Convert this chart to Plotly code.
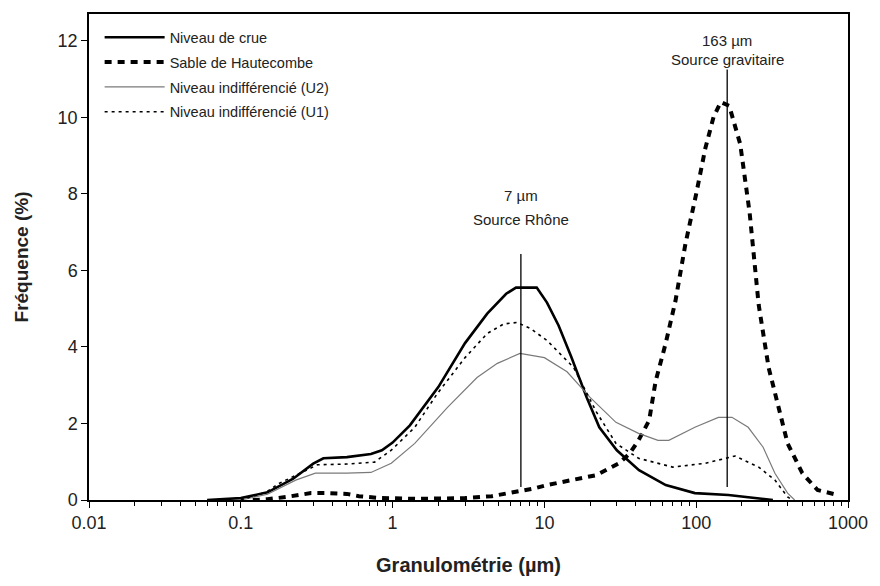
import plotly.graph_objects as go
import numpy as np

# ---- data ----
crue_x = [0.06, 0.1, 0.15, 0.22, 0.3, 0.35, 0.5, 0.72, 0.85, 1.0, 1.3, 2.0, 3.0, 4.2, 5.6, 6.5, 8.9,
          10.4, 12.4, 15, 19, 23, 30, 42, 63, 98, 163, 245, 320]
crue_y = [0, 0.05, 0.2, 0.55, 0.95, 1.09, 1.12, 1.2, 1.3, 1.5, 1.95, 2.95, 4.1, 4.87, 5.39, 5.55, 5.55,
          5.16, 4.56, 3.75, 2.68, 1.9, 1.3, 0.78, 0.39, 0.18, 0.13, 0.05, 0]

sable_x = [0.12, 0.15, 0.2, 0.29, 0.37, 0.5, 0.6, 0.84, 1.5, 3.0, 4.5, 6.3, 8.5, 10.4, 15, 22, 31, 36.5,
           41.7, 49, 54, 63, 73, 85, 100, 115, 130, 145, 165, 195, 225, 258, 300, 350, 400, 500, 630, 820]
sable_y = [0, 0.02, 0.08, 0.18, 0.18, 0.16, 0.1, 0.05, 0.03, 0.05, 0.1, 0.2, 0.3, 0.39, 0.52, 0.65, 0.96, 1.22,
           1.56, 2.08, 3.1, 4.1, 5.2, 6.7, 8.0, 9.2, 10.0, 10.4, 10.3, 9.3, 7.5, 5.1, 3.46, 2.34, 1.48, 0.7, 0.26, 0.15]

u2_x = [0.1, 0.15, 0.23, 0.31, 0.5, 0.72, 0.98, 1.4, 2.3, 3.6, 4.9, 6.9, 10, 14.1, 20, 29.6, 41.7, 56, 66,
        98, 140, 172, 220, 276, 330, 400, 445]
u2_y = [0, 0.15, 0.52, 0.7, 0.7, 0.72, 0.96, 1.48, 2.42, 3.2, 3.57, 3.83, 3.72, 3.35, 2.68, 2.03, 1.74, 1.56, 1.56,
        1.9, 2.16, 2.16, 1.9, 1.38, 0.7, 0.18, 0]

u1_x = [0.1, 0.146, 0.18, 0.23, 0.32, 0.5, 0.76, 0.98, 1.4, 1.97, 3.0, 4.2, 5.4, 6.6, 8.1, 10.4, 15.6, 22,
        29.6, 41.7, 70, 115, 180, 258, 330, 400, 430]
u1_y = [0, 0.2, 0.44, 0.65, 0.92, 0.94, 0.99, 1.3, 1.9, 2.78, 3.72, 4.35, 4.6, 4.64, 4.48, 4.17, 3.46, 2.3,
        1.48, 1.09, 0.86, 0.96, 1.15, 0.86, 0.52, 0.08, 0]

mode_x = [7, 160]
mode_y_bottom = [0.34, 0.34]
mode_y_top = [6.43, 11.25]
mode_label1 = ["7 µm", "163 µm"]
mode_label2 = ["Source Rhône", "Source gravitaire"]
label1_y = [7.95, 12.0]
label2_y = [7.33, 11.5]

x_tickvals = [0.01, 0.1, 1, 10, 100, 1000]
x_ticktext = ["0.01", "0.1", "1", "10", "100", "1000"]
y_tickvals = [0, 2, 4, 6, 8, 10, 12]

FONT = "Liberation Sans, Arial, sans-serif"
TXT = "#222222"

fig = go.Figure()
fig.add_trace(go.Scatter(x=crue_x, y=crue_y, mode="lines", name="Niveau de crue",
                         line=dict(color="black", width=2.6), legendgroup="a"))
fig.add_trace(go.Scatter(x=sable_x, y=sable_y, mode="lines", name="Sable de Hautecombe",
                         line=dict(color="black", width=4, dash="7px,6px"), legendgroup="b"))
fig.add_trace(go.Scatter(x=u2_x, y=u2_y, mode="lines", name="Niveau indifférencié (U2)",
                         line=dict(color="#7a7a7a", width=1.2), legendgroup="c"))
fig.add_trace(go.Scatter(x=u1_x, y=u1_y, mode="lines", name="Niveau indifférencié (U1)",
                         line=dict(color="black", width=1.6, dash="3px,4px"), legendgroup="d"))

for i in range(len(mode_x)):
    fig.add_trace(go.Scatter(x=[mode_x[i], mode_x[i]], y=[mode_y_bottom[i], mode_y_top[i]],
                             mode="lines", line=dict(color="black", width=1.3),
                             showlegend=False, hoverinfo="skip"))
    fig.add_annotation(x=np.log10(mode_x[i]), y=label1_y[i], text=mode_label1[i], showarrow=False,
                       font=dict(family=FONT, size=15, color=TXT), xanchor="center", yanchor="middle")
    fig.add_annotation(x=np.log10(mode_x[i]), y=label2_y[i], text=mode_label2[i], showarrow=False,
                       font=dict(family=FONT, size=15, color=TXT), xanchor="center", yanchor="middle")

fig.update_layout(
    width=880, height=586,
    margin=dict(l=89, r=27, t=12, b=86),
    paper_bgcolor="white", plot_bgcolor="white",
    font=dict(family=FONT, color=TXT),
    legend=dict(x=0.014, y=0.985, xanchor="left", yanchor="top", bgcolor="rgba(0,0,0,0)",
                font=dict(family=FONT, size=14.5, color=TXT), tracegroupgap=3, itemwidth=60),
    showlegend=True,
)
fig.update_xaxes(type="log", range=[-2, 3], tickvals=x_tickvals, ticktext=x_ticktext,
                 ticks="outside", ticklen=6, tickcolor="black", tickwidth=1,
                 showline=True, linecolor="black", linewidth=1.5, mirror=True,
                 showgrid=False, zeroline=False,
                 tickfont=dict(family=FONT, size=18, color=TXT),
                 minor=dict(ticks="outside", ticklen=4, tickcolor="black", dtick="D1", showgrid=False),
                 title=dict(text="<b>Granulométrie (µm)</b>", font=dict(family=FONT, size=20, color=TXT),
                            standoff=26))
fig.update_yaxes(range=[0, 12.7], tickvals=y_tickvals, ticks="outside", ticklen=6, tickcolor="black",
                 showline=True, linecolor="black", linewidth=1.5, mirror=True,
                 showgrid=False, zeroline=False,
                 tickfont=dict(family=FONT, size=18, color=TXT),
                 title=dict(text="<b>Fréquence (%)</b>", font=dict(family=FONT, size=19, color=TXT),
                            standoff=24))

fig.write_html("out.html")
